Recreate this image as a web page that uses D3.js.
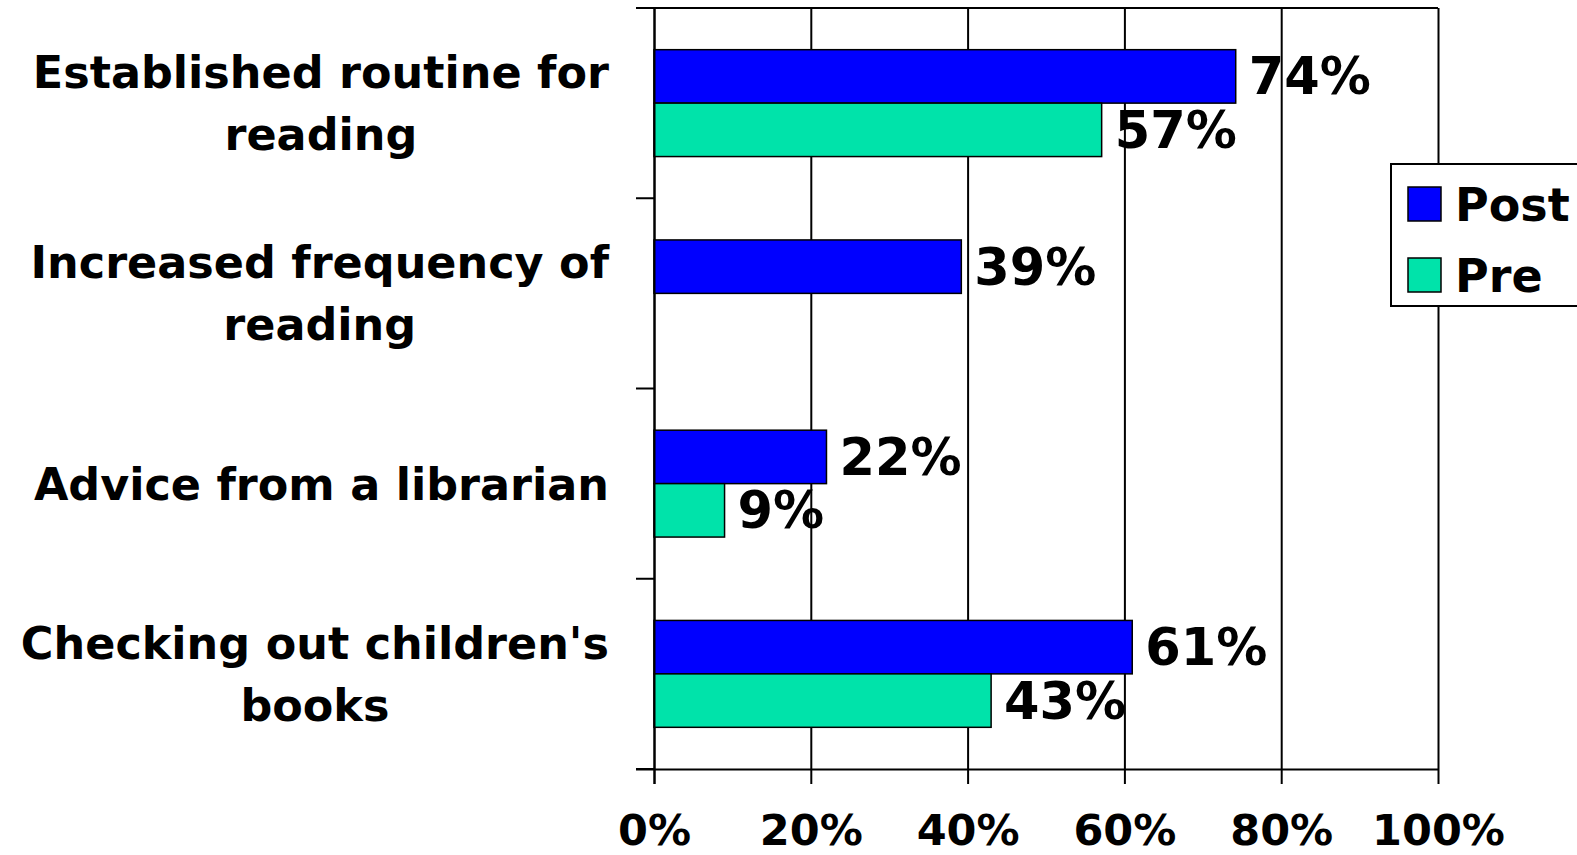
<!DOCTYPE html>
<html>
<head>
<meta charset="utf-8">
<script src="https://cdn.jsdelivr.net/npm/d3@7"></script>
<style>
  html, body { margin: 0; padding: 0; background: #fff; overflow: hidden; }
  svg { display: block; }
  text { font-family: "DejaVu Sans", Verdana, sans-serif; font-weight: bold; fill: #000; }
</style>
</head>
<body>
<svg id="chart" width="1577" height="855"></svg>
<script>
const categories = [
  "Established routine for reading",
  "Increased frequency of reading",
  "Advice from a librarian",
  "Checking out children's books"
];
const categoryLines = [
  ["Established routine for", "reading"],
  ["Increased frequency of", "reading"],
  ["Advice from a librarian"],
  ["Checking out children's", "books"]
];
const seriesNames = ["Post", "Pre"];
const postValues = [0.742, 0.392, 0.22, 0.61];
const preValues = [0.571, null, 0.09, 0.43];
const postLabels = ["74%", "39%", "22%", "61%"];
const preLabels = ["57%", "", "9%", "43%"];
const xTicks = [0, 0.2, 0.4, 0.6, 0.8, 1.0];
const xTickLabels = ["0%", "20%", "40%", "60%", "80%", "100%"];
const colors = ["#0000FF", "#00E3AA"];

(function () {
const svg = d3.select("#chart");
const pLeft = 654, pRight = 1438, pTop = 8, pBottom = 769;

const x = d3.scaleLinear().domain([0, 1]).range([pLeft, pRight]);
const y = d3.scaleBand().domain(categories).range([pTop, pBottom]).padding(0);
const inner = d3.scaleBand().domain(seriesNames).range([0, y.bandwidth()])
  .paddingInner(0).paddingOuter(0.78);

// gridlines (vertical)
const gx = svg.append("g").attr("transform", `translate(0,${pBottom})`)
  .call(d3.axisBottom(x).tickValues(xTicks).tickSize(-(pBottom - pTop)).tickFormat(""));
gx.select(".domain").remove();
gx.selectAll(".tick line").attr("stroke", "#000").attr("stroke-width", 2);

// top border
svg.append("line").attr("x1", pLeft - 18).attr("x2", pRight).attr("y1", pTop).attr("y2", pTop)
  .attr("stroke", "#000").attr("stroke-width", 2);

// bars
const rows = categories.map((c, i) => ({
  cat: c,
  vals: [
    { s: "Post", v: postValues[i], label: postLabels[i], color: colors[0] },
    { s: "Pre", v: preValues[i], label: preLabels[i], color: colors[1] }
  ]
}));

const groups = svg.append("g").selectAll("g").data(rows).join("g")
  .attr("transform", d => `translate(0,${y(d.cat)})`);

groups.selectAll("rect").data(d => d.vals.filter(v => v.v != null)).join("rect")
  .attr("x", x(0))
  .attr("y", d => inner(d.s))
  .attr("width", d => x(d.v) - x(0))
  .attr("height", inner.bandwidth())
  .attr("fill", d => d.color)
  .attr("stroke", "#000")
  .attr("stroke-width", 1.5);

groups.selectAll("text.val").data(d => d.vals.filter(v => v.v != null)).join("text")
  .attr("class", "val")
  .attr("x", d => x(d.v) + 13)
  .attr("y", d => inner(d.s) + inner.bandwidth() / 2 + 18)
  .attr("font-size", 51)
  .text(d => d.label);

// bottom axis
const ax = svg.append("g").attr("transform", `translate(0,${pBottom})`)
  .call(d3.axisBottom(x).tickValues(xTicks).tickSize(15).tickFormat((d, i) => xTickLabels[i]));
ax.select(".domain").attr("d", `M${pLeft - 18},0.5H${pRight}`).attr("stroke", "#000").attr("stroke-width", 2);
ax.selectAll(".tick line").attr("stroke", "#000").attr("stroke-width", 2);
ax.selectAll(".tick text").attr("font-size", 43).attr("y", 76).attr("dy", 0)
  .attr("font-family", "DejaVu Sans").attr("font-weight", "bold").attr("fill", "#000");

// left axis
const ay = svg.append("g").attr("transform", `translate(${pLeft},0)`)
  .call(d3.axisLeft(y).tickSize(0).tickFormat(""));
ay.select(".domain").attr("stroke", "#000").attr("stroke-width", 2).attr("d", `M0.5,${pTop}V${pBottom + 15}`);
const boundaries = categories.map(c => y(c)).concat([pBottom]);
svg.append("g").selectAll("line").data(boundaries).join("line")
  .attr("x1", pLeft - 18).attr("x2", pLeft).attr("y1", d => d).attr("y2", d => d)
  .attr("stroke", "#000").attr("stroke-width", 2);

// category labels
const labelRight = 609, lineH = 62;
categories.forEach((c, i) => {
  const lines = categoryLines[i];
  const g = svg.append("g");
  const texts = lines.map(ln => g.append("text").attr("font-size", 44.5).text(ln));
  const widths = texts.map(t => t.node().getComputedTextLength());
  const maxW = d3.max(widths);
  const cx = labelRight - maxW / 2;
  const cy = y(c) + y.bandwidth() / 2;
  const n = lines.length;
  texts.forEach((t, j) => {
    t.attr("x", cx).attr("text-anchor", "middle")
     .attr("y", cy + (j - (n - 1) / 2) * lineH + 16);
  });
});

// legend
const lg = svg.append("g");
lg.append("rect").attr("x", 1391).attr("y", 164).attr("width", 200).attr("height", 142)
  .attr("fill", "#fff").attr("stroke", "#000").attr("stroke-width", 2);
seriesNames.forEach((s, i) => {
  const yy = 187 + i * 71;
  lg.append("rect").attr("x", 1408).attr("y", yy).attr("width", 33).attr("height", 34)
    .attr("fill", colors[i]).attr("stroke", "#000").attr("stroke-width", 1.5);
  lg.append("text").attr("x", 1455).attr("y", yy + 34).attr("font-size", 46).text(s);
});
})();
</script>
</body>
</html>
